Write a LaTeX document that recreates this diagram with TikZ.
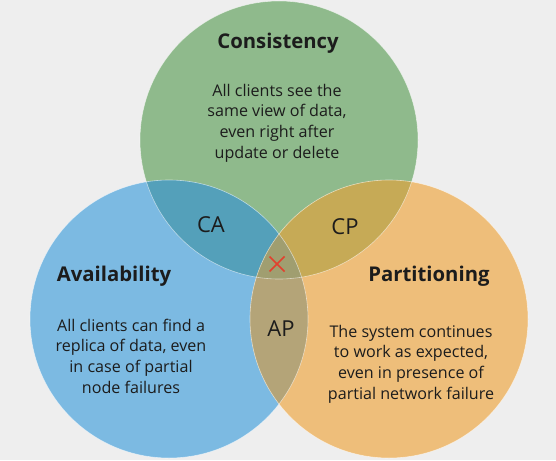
\documentclass[tikz,border=0pt]{standalone}
\usepackage{fontspec}
\setmainfont{Open Sans}
\definecolor{bg}{HTML}{EEEEEE}
\definecolor{cgreen}{HTML}{8FBA8C}
\definecolor{cblue}{HTML}{7CBAE2}
\definecolor{corange}{HTML}{EEBE7A}
\definecolor{cCA}{HTML}{54A0BA}
\definecolor{cCP}{HTML}{C6AA56}
\definecolor{cAP}{HTML}{B4A478}
\definecolor{cmid}{HTML}{A09E70}
\definecolor{txt}{HTML}{1C1C1C}
\definecolor{xred}{HTML}{E2402E}
\tikzset{
  title/.style={font=\fontsize{20.3}{24}\selectfont\bfseries, text=txt, inner sep=0pt},
  body/.style={font=\fontsize{16.1}{20.7}\selectfont, text=txt, align=center, inner sep=0pt},
  pair/.style={font=\fontsize{22}{26}\selectfont, text=txt, inner sep=0pt},
  rim/.style={draw=white, draw opacity=0.55, line width=0.6pt}
}
\begin{document}
\begin{tikzpicture}[x=1pt,y=-1pt]
\fill[bg] (0,0) rectangle (556,460);
\useasboundingbox (0,0) rectangle (556,460);
\def\R{139}
\coordinate (G) at (279,140);
\coordinate (B) at (169,319);
\coordinate (O) at (389,319);
\fill[cgreen] (G) circle[radius=\R];
\fill[cblue] (B) circle[radius=\R];
\fill[corange] (O) circle[radius=\R];
\begin{scope}
  \clip (G) circle[radius=\R];
  \fill[cCA] (B) circle[radius=\R];
  \fill[cCP] (O) circle[radius=\R];
\end{scope}
\begin{scope}
  \clip (B) circle[radius=\R];
  \fill[cAP] (O) circle[radius=\R];
\end{scope}
\begin{scope}
  \clip (G) circle[radius=\R];
  \clip (B) circle[radius=\R];
  \fill[cmid] (O) circle[radius=\R];
\end{scope}
\draw[rim] (G) circle[radius=\R];
\draw[rim] (B) circle[radius=\R];
\draw[rim] (O) circle[radius=\R];

\node[title] (tC) at (278,43) {Consistency};
\node[body] (bC) at (277,123) {All clients see the\\same view of data,\\even right after\\update or delete};
\node[title] (tA) at (114,276) {Availability};
\node[body] (bA) at (131,356) {All clients can find a\\replica of data, even\\in case of partial\\node failures};
\node[title] (tP) at (429,276) {Partitioning};
\node[body] (bP) at (411,364) {The system continues\\to work as expected,\\even in presence of\\partial network failure};
\node[pair] (CA) at (211,225) {CA};
\node[pair] (CP) at (345,227) {CP};
\node[pair] (AP) at (281,329) {AP};
\draw[xred, line width=1.6pt] (269.5,256.5) -- (284.5,271.5);
\draw[xred, line width=1.6pt] (284.5,256.5) -- (269.5,271.5);
\end{tikzpicture}
\end{document}
